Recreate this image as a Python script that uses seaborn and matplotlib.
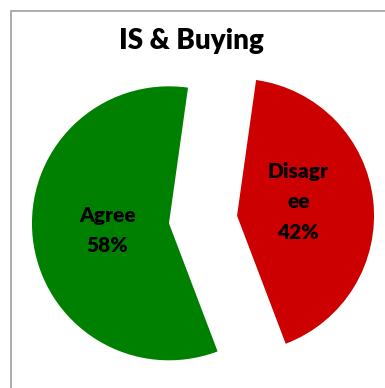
import matplotlib
matplotlib.use("Agg")
import matplotlib.pyplot as plt
from matplotlib.patches import Rectangle
import seaborn as sns

# Survey responses: influence of IS on buying
categories = ["Disagree", "Agree"]
shares = [42, 58]
label_names = ["Disagr\nee", "Agree"]
slice_colors = ["#CC0000", "#008000"]

sns.set_theme(style="white")
plt.rcParams["font.family"] = ["Lato", "DejaVu Sans"]

W, H, DPI = 385, 388, 100
fig = plt.figure(figsize=(W / DPI, H / DPI), dpi=DPI)
fig.patch.set_facecolor("white")

# chart area frame (runs off the right and bottom edges)
fig.patches.append(Rectangle((11 / W, -0.05), 1.2, 1 - 11 / H + 0.05,
                             transform=fig.transFigure, fill=False,
                             edgecolor="#A6A6A6", linewidth=1.3))

ax = fig.add_axes([0, 0, 1, 1])
ax.set_facecolor("none")

labels = [f"{n}\n{v}%" for n, v in zip(label_names, shares)]
wedges, texts = ax.pie(
    shares,
    labels=labels,
    colors=slice_colors,
    explode=[0.25, 0.25],
    startangle=82,
    counterclock=False,
    labeldistance=0.45,
    radius=1.0,
    wedgeprops=dict(linewidth=0),
    textprops=dict(fontsize=15, fontweight="heavy", color="black",
                   ha="center", va="center", linespacing=1.7),
)
for t in texts:
    t.set_horizontalalignment("center")
    t.set_verticalalignment("center")
# lift the three-line label slightly within its slice
x0, y0 = texts[0].get_position()
texts[0].set_position((x0, y0 + 0.05))

# place the pie: centre at (203, 219.5) px, radius 137 px
R = 137.0
cx, cy = 203.0, 219.5
ax.set_xlim(-cx / R, (W - cx) / R)
ax.set_ylim(-(H - cy) / R, cy / R)
ax.set_aspect("auto")
ax.axis("off")

fig.text(191 / W, 1 - 41 / H, "IS & Buying", ha="center", va="center",
         fontsize=20, fontweight="heavy", color="black")

fig.savefig("out.png", dpi=DPI, facecolor="white")
